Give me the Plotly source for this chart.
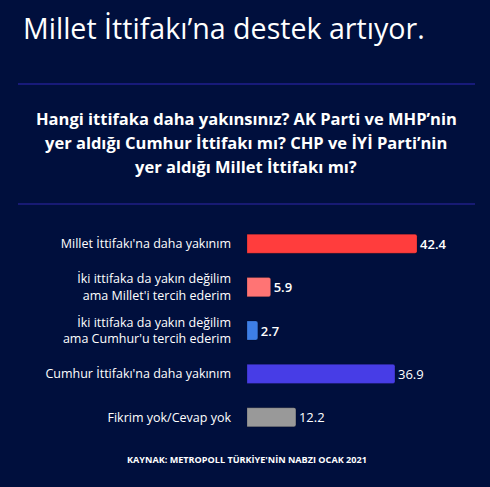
import plotly.graph_objects as go

W, H = 490, 487

categories = [
    "Millet İttifakı'na daha yakınım",
    "İki ittifaka da yakın değilim<br>ama Millet'i tercih ederim",
    "İki ittifaka da yakın değilim<br>ama Cumhur'u tercih ederim",
    "Cumhur İttifakı'na daha yakınım",
    "Fikrim yok/Cevap yok",
]
values = [42.4, 5.9, 2.7, 36.9, 12.2]
bar_colors = ["#ff3d3d", "#ff7474", "#3d7ee6", "#473de6", "#999999"]
label_weights = [600, 600, 600, 400, 400]

title = "Millet İttifakı’na destek artıyor."
question_lines = [
    "Hangi ittifaka daha yakınsınız? AK Parti ve MHP’nin",
    "yer aldığı Cumhur İttifakı mı? CHP ve İYİ Parti’nin",
    "yer aldığı Millet İttifakı mı?",
]
source = "KAYNAK: METROPOLL TÜRKİYE'NİN NABZI OCAK 2021"

bg = "#000f3d"
ml, mr, mt, mb = 247, 15, 222, 48
pw, ph = W - ml - mr, H - mt - mb


def px(x):
    return (x - ml) / pw


def py(y):
    return 1 - (y - mt) / ph


fig = go.Figure(go.Bar(
    x=values, y=categories, orientation="h",
    marker=dict(color=bar_colors, line=dict(width=0.6, color="rgba(0,0,0,0.35)"), cornerradius=2),
    width=0.44,
    text=values, texttemplate="%{x}", textposition="outside", cliponaxis=False,
    textfont=dict(color="white", size=13, family="Open Sans", weight=label_weights),
    hoverinfo="skip",
))

annotations = [
    dict(text=title, xref="paper", yref="paper", x=px(21), y=py(27),
         xanchor="left", yanchor="middle", showarrow=False,
         font=dict(size=28.6, color="white", family="Open Sans", weight=400)),
    dict(text=source, xref="paper", yref="paper", x=px(247), y=py(459),
         xanchor="center", yanchor="middle", showarrow=False,
         font=dict(size=9.1, color="white", family="Open Sans", weight=700)),
]
for i, line in enumerate(question_lines):
    annotations.append(dict(
        text=line, xref="paper", yref="paper", x=px(246), y=py(118 + 24 * i),
        xanchor="center", yanchor="middle", showarrow=False,
        font=dict(size=16.5, color="white", family="Open Sans", weight=700)))

fig.update_layout(
    width=W, height=H,
    margin=dict(l=ml, r=mr, t=mt, b=mb),
    paper_bgcolor=bg, plot_bgcolor=bg,
    showlegend=False,
    font=dict(family="Open Sans", color="white"),
    xaxis=dict(range=[0, pw / 4.01], visible=False, fixedrange=True),
    yaxis=dict(autorange="reversed", showgrid=False, zeroline=False, showline=False,
               ticks="", ticklabelstandoff=15, fixedrange=True,
               tickfont=dict(size=12.5, color="white", family="Open Sans", weight=500)),
    shapes=[
        dict(type="line", xref="paper", yref="paper", x0=px(18), x1=px(475),
             y0=py(84), y1=py(84), line=dict(color="#2e27b8", width=1.2)),
        dict(type="line", xref="paper", yref="paper", x0=px(18), x1=px(475),
             y0=py(204), y1=py(204), line=dict(color="#1f1f86", width=1.5)),
    ],
    annotations=annotations,
)

fig.write_html("out.html", config={"displayModeBar": False},
               post_script="document.body.style.margin='0';")
